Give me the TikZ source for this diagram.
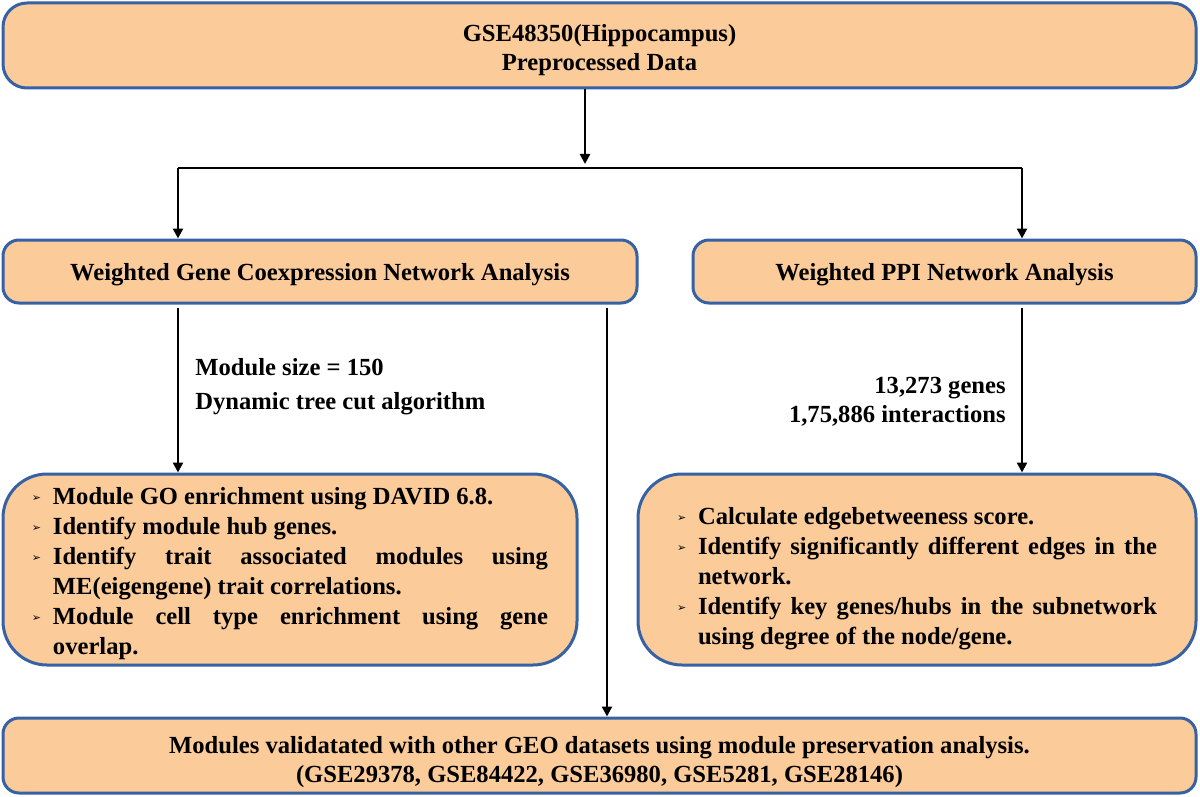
\documentclass[tikz,border=0pt]{standalone}
\usepackage{fontspec}
\setmainfont{Liberation Serif}
\newfontfamily\dvfont{DejaVu Sans}
\usetikzlibrary{arrows.meta}
\definecolor{boxfill}{RGB}{251,203,154}
\definecolor{boxdraw}{RGB}{54,98,164}
\newcommand{\bitem}[1]{\noindent\hangindent=10.5pt\hangafter=1\makebox[10.5pt][l]{\raisebox{1.5pt}{\dvfont\fontsize{5.5}{5.5}\selectfont ➢}}#1\par}
\newcommand{\nohyph}{\hyphenpenalty=10000\relax\exhyphenpenalty=10000\relax}
\begin{document}
\begin{tikzpicture}[x=0.5pt,y=-0.5pt,
  box/.style={draw=boxdraw,fill=boxfill,line width=1.5pt,inner sep=0pt},
  txt/.style={font=\bfseries\fontsize{12.3}{14.5}\selectfont,align=center,inner sep=0pt},
  blist/.style={font=\bfseries\fontsize{12.3}{15}\selectfont,align=justify,inner sep=0pt},
  arr/.style={-{Triangle[length=5pt,width=5pt]},line width=1.2pt,black},
  ln/.style={line width=1.2pt,black},
  lbl/.style={font=\bfseries\fontsize{12.3}{17}\selectfont,inner sep=0pt}]
\useasboundingbox (0,0) rectangle (1200,797);
\node[box,rounded corners=12pt,minimum width=596.5pt,minimum height=42.5pt] (top) at (599.5,45.5) {};
\node[txt] (toptx) at (599.5,50.5) {GSE48350(Hippocampus)\\Preprocessed Data};
\node[box,rounded corners=8pt,minimum width=317pt,minimum height=31.5pt] (wgcna) at (320,271.5) {};
\node[txt] (wgcnatx) at (320,274.5) {Weighted Gene Coexpression Network Analysis};
\node[box,rounded corners=8pt,minimum width=251.5pt,minimum height=31.5pt] (ppi) at (944.5,271.5) {};
\node[txt] (ppitx) at (944.5,274.5) {Weighted PPI Network Analysis};
\node[box,rounded corners=22pt,minimum width=287pt,minimum height=95.5pt] (lb) at (290,569.5) {};
\node[blist,text width=258pt] (lbtx) at (290,573.5) {\nohyph
\bitem{Module GO enrichment using DAVID 6.8.}
\bitem{Identify module hub genes.}
\bitem{Identify trait associated modules using ME(eigengene) trait correlations.}
\bitem{Module cell type enrichment using gene overlap.}};
\node[box,rounded corners=22pt,minimum width=279pt,minimum height=95.5pt] (rb) at (917,569.5) {};
\node[blist,text width=240pt] (rbtx) at (917,579) {\nohyph
\bitem{Calculate edgebetweeness score.}
\bitem{Identify significantly different edges in the network.}
\bitem{Identify key genes/hubs in the subnetwork using degree of the node/gene.}};
\node[box,rounded corners=8pt,minimum width=596.5pt,minimum height=37.5pt] (bot) at (599.5,755.5) {};
\node[txt] (bottx) at (599.5,762) {Modules validatated with other GEO datasets using module preservation analysis.\\(GSE29378, GSE84422, GSE36980, GSE5281, GSE28146)};
\coordinate (split) at (585,168);
\coordinate (sl) at (178,168);
\coordinate (sr) at (1022,168);
\draw[arr] (top.south -| split) -- ([yshift=2pt]split);
\draw[ln] (sl) -- (sr);
\draw[arr] (sl) -- (wgcna.north -| sl);
\draw[arr] (sr) -- (ppi.north -| sr);
\coordinate (lt) at (178,308);
\coordinate (rt) at (1022,308);
\coordinate (mt) at (607,308);
\draw[arr] (lt) -- (lb.north -| lt);
\draw[arr] (rt) -- (rb.north -| rt);
\draw[arr] (mt) -- (bot.north -| mt);
\node[lbl,align=left,anchor=west] (lbl1) at (195,386.5) {Module size = 150\\Dynamic tree cut algorithm};
\node[lbl,align=right,anchor=east,font=\bfseries\fontsize{12.3}{14.5}\selectfont] (lbl2) at (1006,401.5) {13,273 genes\\1,75,886 interactions};
\end{tikzpicture}
\end{document}
